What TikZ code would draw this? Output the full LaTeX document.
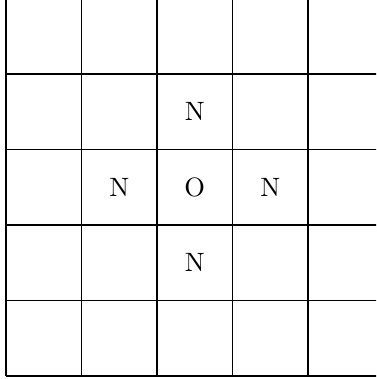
\documentclass[tikz,border=0pt]{standalone}
\begin{document}
\begin{tikzpicture}[cell/.style={inner sep=0pt}]
\useasboundingbox (-0.0795,-0.0397) rectangle (4.9006,4.9801);
\clip (-0.0795,-0.0397) rectangle (4.9006,4.9801);
\draw (0,0) grid (5,5);
\node[cell] (n1) at (2.5,3.5) {N};
\node[cell] (n2) at (1.5,2.5) {N};
\node[cell] (o) at (2.5,2.5) {O};
\node[cell] (n3) at (3.5,2.5) {N};
\node[cell] (n4) at (2.5,1.5) {N};
\end{tikzpicture}
\end{document}
